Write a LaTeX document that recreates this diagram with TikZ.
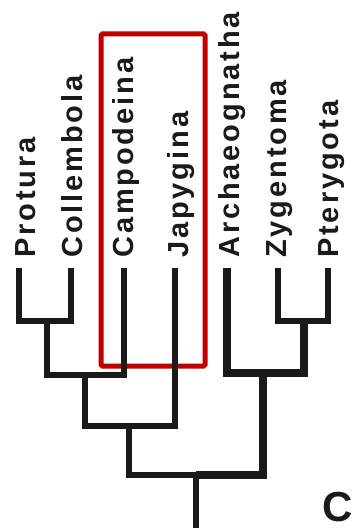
\documentclass[tikz,border=0pt]{standalone}
\usepackage{fontspec}
\setmainfont{Liberation Sans}
\newfontfamily\labfont{Liberation Sans}[LetterSpace=10]
\definecolor{ink}{HTML}{1A1A1A}
\definecolor{boxred}{HTML}{C00000}
\tikzset{
  taxon/.style={rotate=90, anchor=base west, inner sep=0pt, text=ink,
    font=\labfont\bfseries\fontsize{29}{29}\selectfont},
  branch/.style={draw=ink, line width=6pt, line cap=butt, line join=miter},
  heavy branch/.style={branch, line width=8pt},
  redbox/.style={draw=boxred, line width=5pt, rounded corners=1.5pt}
}
\begin{document}
\begin{tikzpicture}[x=1pt,y=-1pt]
\useasboundingbox (0,0) rectangle (358,532);
% highlight box
\draw[redbox] (101,34) rectangle (205,366);
% labels
\node[taxon] (tP)  at (35.5,258)  {Protura};
\node[taxon] (tC)  at (82.5,258)  {Collembola};
\node[taxon] (tCa) at (133,258)   {Campodeina};
\node[taxon] (tJ)  at (188.5,258) {Japygina};
\node[taxon] (tA)  at (239,258)   {Archaeognatha};
\node[taxon] (tZ)  at (286.5,258) {Zygentoma};
\node[taxon] (tPt) at (338.5,258) {Pterygota};
% tree coordinates
\coordinate (lP)  at (19,268);
\coordinate (lC)  at (71,268);
\coordinate (lCa) at (123.5,268);
\coordinate (lJ)  at (175,268);
\coordinate (lA)  at (226.5,268);
\coordinate (lZ)  at (278,268);
\coordinate (lPt) at (327.5,268);
\coordinate (n1) at (46.5,321);
\coordinate (n2) at (85,374.5);
\coordinate (n3) at (128.5,425.5);
\coordinate (n4) at (303.5,321);
\coordinate (n5) at (263,373);
\coordinate (root) at (195.5,475);
\coordinate (base) at (195.5,528);
% tree
\draw[branch] (lP) |- (n1) -| (lC);
\draw[branch] (n1) |- (n2) -| (lCa);
\draw[branch] (n2) |- (n3) -| (lJ);
\draw[branch] (lZ) |- (n4) -| (lPt);
\draw[heavy branch] (lA) |- (n5) -| (n4);
\draw[branch] (n3) |- (root);
\draw[heavy branch] (n5) |- (root);
\draw[branch] (root) -- (base);
% panel letter
\node[anchor=base west, inner sep=0pt, text=ink, font=\bfseries\fontsize{42}{42}\selectfont] (panel) at (322,521) {C};
\end{tikzpicture}
\end{document}
